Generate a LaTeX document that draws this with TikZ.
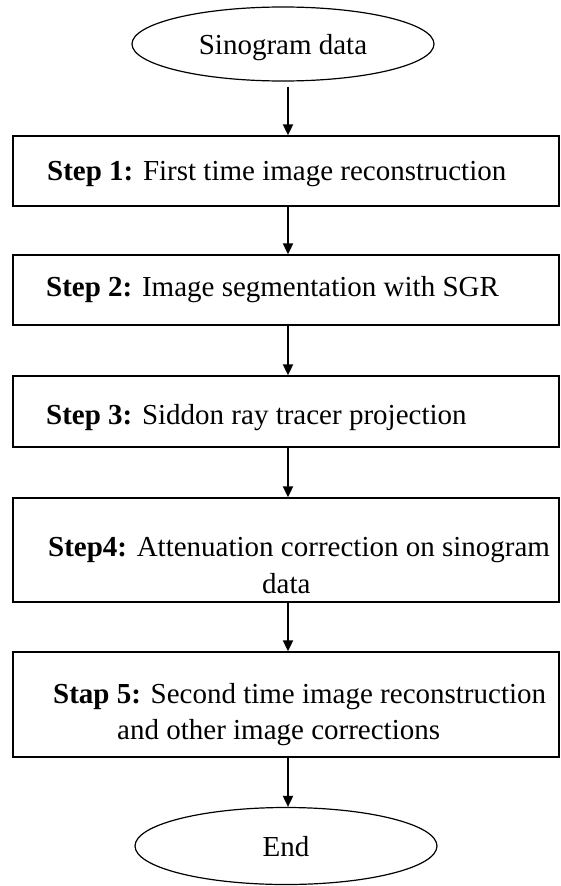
\documentclass[tikz,border=0pt]{standalone}
\usepackage{fontspec}
\setmainfont{Liberation Serif}
\usetikzlibrary{arrows.meta,shapes.geometric}
\begin{document}
\begin{tikzpicture}[x=1pt,y=-1pt,
  every node/.style={font=\fontsize{29}{34}\selectfont},
  term/.style={draw, ellipse, line width=1.2pt, minimum width=302pt, inner sep=0pt, text depth=0pt},
  stepbox/.style={draw, rectangle, line width=1.3pt, minimum width=546pt, inner sep=0pt},
  lbl/.style={anchor=base west, inner sep=0pt},
  arr/.style={line width=1.8pt, -{Triangle[length=11pt,width=10pt]}}]
\useasboundingbox (0,0) rectangle (561,886);
\node[term, minimum height=74pt] (start) at (283,44) {Sinogram data};
\node[stepbox, minimum height=70pt] (b1) at (286,171) {};
\node[stepbox, minimum height=70pt] (b2) at (286,290) {};
\node[stepbox, minimum height=71pt] (b3) at (286,411.5) {};
\node[stepbox, minimum height=104pt] (b4) at (286,550) {};
\node[stepbox, minimum height=105pt] (b5) at (286,704.5) {};
\node[term, minimum height=77pt] (end) at (286,846) {End};
\node[lbl] (t1) at (47,180) {\textbf{Step 1:} First time image reconstruction};
\node[lbl] (t2) at (46,296) {\textbf{Step 2:} Image segmentation with SGR};
\node[lbl] (t3) at (46,424) {\textbf{Step 3:} Siddon ray tracer projection};
\node[lbl] (t4a) at (48,556) {\textbf{Step4:} Attenuation correction on sinogram};
\node[lbl] (t4b) at (262,593) {data};
\node[lbl] (t5a) at (53,703) {\textbf{Stap 5:} Second time image reconstruction};
\node[lbl] (t5b) at (117,739) {and other image corrections};
\draw[arr] ([xshift=5pt,yshift=-5pt]start.south) -- ([xshift=2pt]b1.north);
\draw[arr] ([xshift=2pt]b1.south) -- ([xshift=2pt]b2.north);
\draw[arr] ([xshift=2pt]b2.south) -- ([xshift=2pt]b3.north);
\draw[arr] ([xshift=2pt]b3.south) -- ([xshift=2pt]b4.north);
\draw[arr] ([xshift=2pt]b4.south) -- ([xshift=2pt]b5.north);
\draw[arr] ([xshift=2pt]b5.south) -- ([xshift=2pt]end.north);
\end{tikzpicture}
\end{document}
